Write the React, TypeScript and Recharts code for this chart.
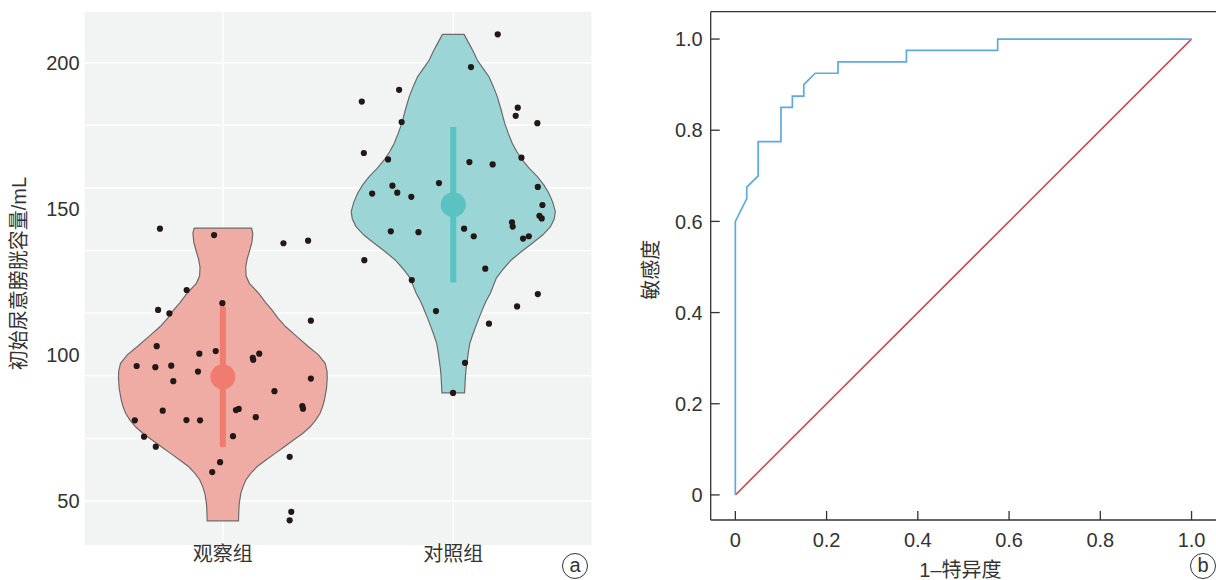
import { CartesianGrid, ComposedChart, Label, Line, LineChart, ReferenceLine, Scatter, XAxis, YAxis } from 'recharts';

const groups = ['观察组', '对照组'];

// violin outlines: level (mL) and half width (group units), top to bottom
const obsLevels = [143.4, 141.5, 138.5, 135.9, 133.0, 130.0, 127.0, 124.5, 121.1, 118.0, 115.4, 112.5, 109.7, 106.5, 102.8, 100.0, 97.1, 94.5, 92.0, 88.5, 84.6, 82.3, 80.0, 77.7, 75.4, 73.0, 70.9, 68.6, 66.3, 64.0, 61.7, 59.4, 57.2, 55.0, 52.6, 49.0, 46.0, 43.2];
const obsHalfWidths = [0.125, 0.13, 0.126, 0.117, 0.106, 0.099, 0.101, 0.115, 0.155, 0.185, 0.213, 0.24, 0.272, 0.318, 0.372, 0.415, 0.444, 0.452, 0.453, 0.45, 0.441, 0.433, 0.422, 0.403, 0.379, 0.345, 0.307, 0.267, 0.227, 0.187, 0.148, 0.12, 0.1, 0.088, 0.078, 0.071, 0.069, 0.068];
const ctrlLevels = [209.7, 206.6, 203.8, 200.9, 198.0, 195.2, 191.8, 188.4, 183.8, 179.3, 175.8, 172.4, 169.5, 166.7, 163.8, 161.0, 158.2, 155.3, 152.2, 149.0, 146.5, 143.9, 141.0, 138.2, 135.3, 132.5, 129.4, 126.3, 121.1, 118.2, 115.4, 112.5, 109.6, 106.8, 104.0, 101.2, 98.3, 95.5, 92.8, 90.0, 87.0];
const ctrlHalfWidths = [0.047, 0.068, 0.087, 0.104, 0.13, 0.155, 0.174, 0.191, 0.208, 0.223, 0.239, 0.256, 0.276, 0.3, 0.33, 0.365, 0.393, 0.415, 0.432, 0.443, 0.438, 0.422, 0.388, 0.343, 0.295, 0.252, 0.217, 0.187, 0.161, 0.141, 0.126, 0.111, 0.097, 0.084, 0.072, 0.066, 0.061, 0.056, 0.053, 0.051, 0.049];

// individual patients (jittered group position, volume mL)
const obsJitter = [0.727, 0.962, 1.263, 1.37, 0.843, 0.719, 0.768, 0.998, 1.382, 0.713, 0.898, 0.969, 1.13, 1.132, 1.158, 0.626, 0.707, 0.776, 0.892, 0.785, 1.382, 1.224, 0.739, 1.057, 1.069, 1.345, 1.348, 1.143, 0.618, 0.842, 0.901, 0.658, 1.044, 0.709, 1.29, 0.988, 0.954, 1.297, 1.29];
const obsValues = [143.2, 141.0, 138.2, 139.1, 122.2, 115.4, 114.2, 117.7, 111.7, 103.0, 100.4, 101.3, 99.0, 98.3, 100.4, 96.2, 95.8, 96.3, 94.3, 91.0, 91.9, 87.6, 80.9, 81.1, 81.5, 82.5, 81.6, 78.7, 77.6, 77.7, 77.6, 72.0, 72.2, 68.6, 65.1, 63.3, 59.9, 46.3, 43.4];
const ctrlJitter = [2.193, 2.077, 1.765, 1.603, 2.28, 2.271, 1.776, 2.365, 1.612, 1.717, 2.296, 2.07, 2.171, 1.938, 1.736, 1.648, 1.757, 1.818, 2.367, 2.387, 2.374, 2.384, 2.255, 2.258, 1.729, 1.849, 2.047, 2.089, 2.303, 2.328, 1.614, 1.82, 2.139, 2.367, 2.277, 1.925, 2.155, 2.051, 1.999];
const ctrlValues = [209.7, 198.5, 190.7, 186.7, 184.6, 181.8, 179.7, 179.3, 169.1, 166.9, 167.5, 166.0, 165.2, 158.8, 157.9, 155.2, 155.5, 154.1, 157.5, 151.3, 147.6, 146.7, 145.4, 143.9, 142.3, 142.0, 143.2, 140.6, 139.8, 140.6, 132.4, 125.6, 129.5, 120.8, 116.6, 115.0, 110.7, 97.3, 87.0];

const groupMeans = [92.5, 151.4];
const groupSds = [24.0, 26.6];

const volumeTicks = [50, 100, 150, 200];
const gridLevels = [200, 178.6, 157.1, 135.7, 114.3, 92.9, 71.4, 50];

// ROC curve (1 - specificity, sensitivity)
const rocFpr = [0, 0, 0.025, 0.025, 0.05, 0.05, 0.1, 0.1, 0.125, 0.125, 0.15, 0.15, 0.175, 0.225, 0.225, 0.375, 0.375, 0.575, 0.575, 1];
const rocTpr = [0, 0.6, 0.65, 0.675, 0.7, 0.775, 0.775, 0.85, 0.85, 0.875, 0.875, 0.9, 0.925, 0.925, 0.95, 0.95, 0.975, 0.975, 1, 1];
const rocTicks = [0, 0.2, 0.4, 0.6, 0.8, 1];

const colors = {
  obsFill: '#EFACA5',
  obsMark: '#F07C70',
  ctrlFill: '#9BD5D5',
  ctrlMark: '#5BC2C2',
  outline: '#6b6b6b',
  point: '#231815',
  text: '#333',
};

const violin = (center: number, levels: number[], hw: number[]) => {
  const left = levels.map((y, i) => ({ x: center - hw[i], y }));
  const right = levels.map((y, i) => ({ x: center + hw[i], y })).reverse();
  return [...left, ...right, left[0]];
};

const patients = (jitter: number[], values: number[]) => jitter.map((x, i) => ({ x, y: values[i] }));

const noDot = () => <g />;
const pointDot = (p: any) => <circle cx={p.cx} cy={p.cy} r={3.1} fill={colors.point} />;
const meanDot = (fill: string) => (p: any) => <circle cx={p.cx} cy={p.cy} r={12.5} fill={fill} />;

const rotatedTitle = (text: string, dx: number, dy: number) => (props: any) => {
  const { x, y, width, height } = props.viewBox;
  const cx = x + width / 2 + dx;
  const cy = y + height / 2 + dy;
  return (
    <text x={cx} y={cy} transform={`rotate(-90 ${cx} ${cy})`} textAnchor="middle" dominantBaseline="central" fontSize={20} fill={colors.text}>
      {text}
    </text>
  );
};

const flatTitle = (text: string, dx: number, dy: number) => (props: any) => {
  const { x, y, width, height } = props.viewBox;
  return (
    <text x={x + width / 2 + dx} y={y + height / 2 + dy} textAnchor="middle" dominantBaseline="central" fontSize={20} fill={colors.text}>
      {text}
    </text>
  );
};

function PanelLabel({ letter, left, top }: { letter: string; left: number; top: number }) {
  return (
    <div
      style={{
        position: 'absolute',
        left: left - 13,
        top: top - 13,
        width: 26,
        height: 26,
        boxSizing: 'border-box',
        border: `1.3px solid ${colors.text}`,
        borderRadius: '50%',
        display: 'flex',
        alignItems: 'center',
        justifyContent: 'center',
        fontSize: 20,
        lineHeight: 1,
        color: colors.text,
        paddingBottom: 2,
      }}
    >
      {letter}
    </div>
  );
}

function ViolinPanel() {
  const tickStyle = { fontSize: 20, fill: colors.text };
  return (
    <ComposedChart width={600} height={580} margin={{ top: 11.7, right: 8.5, bottom: 0, left: 0 }}>
      <CartesianGrid fill="#F2F4F3" stroke="#ffffff" strokeWidth={1.4} horizontalValues={gridLevels} verticalValues={[1, 2]} />
      <XAxis
        type="number"
        dataKey="x"
        domain={[0.4, 2.6]}
        allowDataOverflow
        ticks={[1, 2]}
        tickFormatter={(v: number) => groups[Math.round(v) - 1]}
        tickLine={false}
        axisLine={false}
        tickSize={0}
        tickMargin={2}
        height={35}
        tick={tickStyle}
      />
      <YAxis
        type="number"
        dataKey="y"
        domain={[34.94, 217.45]}
        allowDataOverflow
        ticks={volumeTicks}
        tickLine={false}
        axisLine={false}
        tickSize={0}
        tickMargin={5}
        width={84.6}
        tick={tickStyle}
      >
        <Label content={rotatedTitle('初始尿意膀胱容量/mL', -23.3, -4.8)} />
      </YAxis>
      <Scatter data={violin(1, obsLevels, obsHalfWidths)} line={{ fill: colors.obsFill, stroke: colors.outline, strokeWidth: 1.2 }} lineJointType="linear" shape={noDot} isAnimationActive={false} />
      <Scatter data={violin(2, ctrlLevels, ctrlHalfWidths)} line={{ fill: colors.ctrlFill, stroke: colors.outline, strokeWidth: 1.2 }} lineJointType="linear" shape={noDot} isAnimationActive={false} />
      <Scatter
        data={[{ x: 1, y: groupMeans[0] - groupSds[0] }, { x: 1, y: groupMeans[0] + groupSds[0] }]}
        line={{ stroke: colors.obsMark, strokeWidth: 6 }}
        shape={noDot}
        isAnimationActive={false}
      />
      <Scatter
        data={[{ x: 2, y: groupMeans[1] - groupSds[1] }, { x: 2, y: groupMeans[1] + groupSds[1] }]}
        line={{ stroke: colors.ctrlMark, strokeWidth: 6 }}
        shape={noDot}
        isAnimationActive={false}
      />
      <Scatter data={[{ x: 1, y: groupMeans[0] }]} shape={meanDot(colors.obsMark)} isAnimationActive={false} />
      <Scatter data={[{ x: 2, y: groupMeans[1] }]} shape={meanDot(colors.ctrlMark)} isAnimationActive={false} />
      <Scatter data={patients(obsJitter, obsValues)} shape={pointDot} isAnimationActive={false} />
      <Scatter data={patients(ctrlJitter, ctrlValues)} shape={pointDot} isAnimationActive={false} />
    </ComposedChart>
  );
}

function RocPanel() {
  const rocData = rocFpr.map((x, i) => ({ x, y: rocTpr[i] }));
  const chance = [{ x: 0, y: 0 }, { x: 1, y: 1 }];
  const tickStyle = { fontSize: 20, fill: colors.text };
  const fmt = (v: number) => (v === 0 ? '0' : v.toFixed(1));
  const yDomain = [-0.055, 1.06];
  return (
    <LineChart width={640} height={580} margin={{ top: 11.7, right: 23.8, bottom: 0, left: 0 }}>
      <XAxis
        type="number"
        dataKey="x"
        domain={[-0.054, 1.054]}
        allowDataOverflow
        ticks={rocTicks}
        tickFormatter={fmt}
        tickSize={-9}
        tickMargin={22}
        height={60}
        stroke="#333"
        strokeWidth={1.3}
        tick={tickStyle}
      >
        <Label content={flatTitle('1–特异度', -3, 20)} />
      </XAxis>
      <YAxis
        type="number"
        domain={yDomain}
        allowDataOverflow
        ticks={rocTicks}
        tickFormatter={fmt}
        tickSize={-9}
        tickMargin={17}
        width={110.7}
        stroke="#333"
        strokeWidth={1.3}
        tick={tickStyle}
      >
        <Label content={rotatedTitle('敏感度', -4.4, 4)} />
      </YAxis>
      <ReferenceLine y={yDomain[1]} stroke="#333" strokeWidth={1.3} />
      <Line data={chance} dataKey="y" type="linear" stroke="#E3303A" strokeWidth={1.5} dot={false} isAnimationActive={false} />
      <Line data={rocData} dataKey="y" type="linear" stroke="#5BABDF" strokeWidth={1.7} dot={false} isAnimationActive={false} />
    </LineChart>
  );
}

export default function App() {
  return (
    <div
      style={{
        position: 'fixed',
        left: 0,
        top: 0,
        width: 1216,
        height: 580,
        overflow: 'hidden',
        background: '#fff',
        fontFamily: '"Liberation Sans", "Noto Sans CJK SC", sans-serif',
      }}
    >
      <div style={{ position: 'absolute', left: 0, top: 0 }}>
        <ViolinPanel />
      </div>
      <div style={{ position: 'absolute', left: 600, top: 0 }}>
        <RocPanel />
      </div>
      <PanelLabel letter="a" left={575} top={566} />
      <PanelLabel letter="b" left={1203} top={566} />
    </div>
  );
}
